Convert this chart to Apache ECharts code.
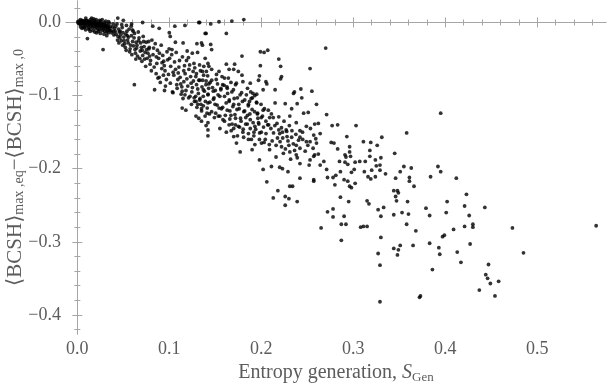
<!DOCTYPE html>
<html>
<head>
<meta charset="utf-8">
<script src="https://cdn.jsdelivr.net/npm/echarts@6/dist/echarts.min.js"></script>
<style>
html, body { margin: 0; padding: 0; background: #fff; }
#chart { width: 608px; height: 384px; }
</style>
</head>
<body>
<div id="chart"></div>
<script>
// points, [S_Gen, <BCSH>max,eq - <BCSH>max,0], grouped by region
var headPts = [
  [0.0005,0.001],[0.0012,-0.001],[0.0018,0.002],[0.0024,0.000],[0.0031,-0.003],[0.0033,0.004],[0.0041,0.001],[0.0046,-0.002],
  [0.0052,0.003],[0.0058,-0.001],[0.0061,0.000],[0.0067,-0.004],[0.0073,0.002],[0.0079,-0.002],[0.0084,0.001],[0.0088,-0.005],
  [0.0094,0.003],[0.0101,-0.001],[0.0107,0.000],[0.0112,-0.004],[0.0118,0.002],[0.0121,-0.006],[0.0127,-0.002],[0.0133,0.001],
  [0.0139,-0.003],[0.0142,0.004],[0.0148,-0.005],[0.0153,-0.001],[0.0159,0.002],[0.0163,-0.007],[0.0168,-0.003],[0.0174,0.000],
  [0.0179,-0.005],[0.0183,0.003],[0.0189,-0.002],[0.0194,-0.008],[0.0199,-0.004],[0.0205,0.001],[0.0211,-0.006],[0.0216,-0.002],
  [0.0222,-0.009],[0.0226,0.000],[0.0231,-0.005],[0.0237,-0.003],[0.0242,-0.010],[0.0247,-0.006],[0.0253,0.002],[0.0258,-0.004],
  [0.0262,-0.008],[0.0268,-0.001],[0.0273,-0.011],[0.0279,-0.006],[0.0284,-0.003],[0.0288,-0.009],[0.0293,0.000],[0.0299,-0.012],
  [0.0304,-0.005],[0.0309,-0.008],[0.0314,-0.002],[0.0319,-0.013],[0.0324,-0.007],[0.0329,-0.010],[0.0334,-0.004],[0.0339,-0.014],
  [0.0344,-0.009],[0.0349,-0.001],[0.0353,-0.011],[0.0358,-0.006],[0.0021,-0.0012],[0.0043,0.0006],[0.0064,0.0023],[0.0082,-0.0009],
  [0.0103,0.0024],[0.0126,0.0004],[0.0144,-0.0012],[0.0161,-0.0024],[0.0186,0.0006],[0.0203,-0.0031],[0.0219,-0.0042],[0.0244,-0.0013],
  [0.0263,-0.0029],[0.0286,-0.0052],[0.0302,-0.0038],[0.0322,-0.0053],[0.0341,-0.0064],[0.011,-0.022],[0.028,-0.037],[0.0035,-0.006],
  [0.0065,-0.007],[0.0135,-0.009],[0.0178,0.005],[0.0241,0.003],[0.0092,0.006],[0.0155,0.006],[0.0205,0.004],
  [0.005,-0.008],[0.009,-0.010],[0.014,-0.012],[0.017,-0.011],[0.021,-0.014],[0.025,-0.015],[0.029,-0.016],[0.032,-0.018],
  [0.019,-0.013],[0.012,-0.009],[0.027,0.004],[0.031,0.002],[0.034,0.001],[0.008,-0.007],[0.023,-0.012]
];
var bodyPts = [
  [0.0412,-0.012],[0.0688,-0.028],[0.0534,-0.004],[0.0759,-0.049],[0.0463,-0.021],[0.0627,-0.037],[0.0381,-0.006],[0.0716,-0.019],
  [0.0579,-0.031],[0.0497,-0.014],[0.0654,-0.046],[0.0431,-0.002],[0.0782,-0.034],[0.0546,-0.024],[0.0608,-0.012],[0.0398,-0.017],
  [0.0737,-0.041],[0.0515,-0.029],[0.0671,-0.021],[0.0449,-0.009],[0.0593,-0.044],[0.0366,-0.011],[0.0702,-0.053],[0.0528,-0.016],
  [0.0639,-0.027],[0.0477,-0.025],[0.0749,-0.027],[0.0563,-0.009],[0.0421,-0.016],[0.0684,-0.039],[0.0505,-0.020],[0.0617,-0.021],
  [0.0791,-0.057],[0.0442,-0.019],[0.0574,-0.036],[0.0726,-0.033],[0.0389,-0.002],[0.0649,-0.031],[0.0488,-0.007],[0.0553,-0.028],
  [0.0711,-0.045],[0.0456,-0.013],[0.0601,-0.026],[0.0768,-0.042],[0.0374,-0.014],[0.0663,-0.013],[0.0521,-0.034],[0.0588,-0.018],
  [0.0743,-0.060],[0.0437,-0.024],[0.0632,-0.042],[0.0494,-0.031],[0.0696,-0.034],[0.0569,-0.040],[0.0405,-0.008],[0.0776,-0.026],
  [0.0539,-0.012],[0.0622,-0.015],[0.0471,-0.017],[0.0731,-0.050],[0.0586,-0.005],[0.0645,-0.035],[0.0509,-0.025],[0.0678,-0.049],
  [0.0418,-0.005],[0.0721,-0.026],[0.0557,-0.020],[0.0611,-0.032],[0.0483,-0.003],[0.0754,-0.037],[0.0393,-0.012],[0.0667,-0.025],
  [0.0531,-0.038],[0.0598,-0.010],[0.0786,-0.046],[0.0452,-0.028],[0.0706,-0.038],[0.0542,-0.018],[0.0636,-0.050],[0.0467,-0.012],
  [0.062,-0.085],[0.044,0.006],[0.050,0.003],[0.059,-0.002],[0.071,0.000]
];
var bandPts = [
  [0.082,-0.005],[0.089,-0.008],[0.106,-0.005],[0.117,-0.004],[0.132,0.000],[0.140,-0.015],[0.100,-0.014],[0.101,-0.019],
  [0.115,-0.028],[0.130,-0.029],[0.135,-0.028],[0.125,-0.042],[0.139,-0.049],[0.142,-0.056],[0.084,-0.092],[0.089,-0.075],
  [0.0912,-0.031],[0.1187,-0.052],[0.0835,-0.061],[0.1344,-0.112],[0.1026,-0.044],[0.1403,-0.067],[0.0968,-0.078],[0.1251,-0.089],
  [0.0779,-0.036],[0.1129,-0.098],[0.1066,-0.027],[0.1382,-0.094],[0.0884,-0.049],[0.1213,-0.064],[0.1307,-0.041],[0.0945,-0.059],
  [0.1158,-0.081],[0.0811,-0.024],[0.1436,-0.125],[0.1042,-0.068],[0.1273,-0.108],[0.0998,-0.036],[0.1362,-0.079],[0.0857,-0.070],
  [0.1194,-0.039],[0.1104,-0.061],[0.1421,-0.098],[0.0929,-0.045],[0.1237,-0.083],[0.1085,-0.090],[0.1329,-0.058],[0.0796,-0.052],
  [0.1172,-0.070],[0.1011,-0.083],[0.1392,-0.108],[0.0871,-0.038],[0.1288,-0.074],[0.0953,-0.066],[0.1143,-0.047],[0.1225,-0.101],
  [0.1057,-0.054],[0.1355,-0.088],[0.0902,-0.082],[0.1268,-0.056],[0.0823,-0.044],[0.1444,-0.082],[0.1118,-0.075],[0.0982,-0.051],
  [0.1316,-0.097],[0.1201,-0.087],[0.0847,-0.029],[0.1412,-0.117],[0.1075,-0.041],[0.1259,-0.067],[0.0936,-0.072],[0.1165,-0.059],
  [0.1373,-0.072],[0.1034,-0.095],[0.1296,-0.085],[0.0864,-0.056],[0.1208,-0.048],[0.1093,-0.078],[0.1338,-0.066],[0.0918,-0.063],
  [0.1428,-0.090],[0.1136,-0.088],[0.1245,-0.095],[0.0975,-0.040],[0.1369,-0.101],[0.1049,-0.072],[0.0805,-0.066],[0.1181,-0.093],
  [0.1321,-0.079],[0.0893,-0.042],[0.1277,-0.062],[0.1015,-0.060],[0.1398,-0.085],[0.1111,-0.052],[0.0958,-0.087],[0.1232,-0.074],
  [0.1351,-0.121],[0.0876,-0.076],[0.1149,-0.104],[0.1068,-0.064],[0.1286,-0.101],[0.0939,-0.053],[0.1417,-0.073],[0.1191,-0.077],
  [0.1003,-0.049],[0.1334,-0.104],[0.0829,-0.035],[0.1262,-0.080],[0.1097,-0.069],[0.1389,-0.128],[0.1221,-0.058],[0.0991,-0.071],
  [0.1157,-0.066],[0.1309,-0.091],[0.0859,-0.047],[0.1441,-0.109],[0.1081,-0.085],[0.1241,-0.112],[0.0921,-0.055],[0.1375,-0.060],
  [0.1124,-0.084],[0.1029,-0.037],[0.1295,-0.070],[0.0948,-0.093],
  [0.104,-0.096],[0.114,-0.094],[0.117,-0.099],[0.121,-0.103],[0.127,-0.103],[0.129,-0.108],[0.131,-0.112],[0.133,-0.106],
  [0.135,-0.118],[0.130,-0.116],[0.114,-0.117],[0.118,-0.120],[0.129,-0.128],[0.132,-0.131],[0.135,-0.135],[0.140,-0.141],
  [0.142,-0.147],[0.142,-0.155],[0.141,-0.124],[0.142,-0.137]
];
var upperPts = [
  [0.133,0.000],[0.145,-0.002],[0.154,0.001],[0.168,0.002],[0.181,0.004],[0.139,-0.015],[0.162,-0.015],[0.136,-0.031],
  [0.145,-0.030],[0.146,-0.037],[0.179,-0.046],[0.199,-0.040],[0.203,-0.041],[0.207,-0.038],[0.219,-0.050],[0.270,-0.035],
  [0.199,-0.059],[0.221,-0.060],[0.222,-0.074],[0.221,-0.077],[0.253,-0.063],[0.243,-0.091],[0.236,-0.095],[0.215,-0.092],
  [0.205,-0.081],[0.206,-0.084],[0.198,-0.073],[0.197,-0.079],[0.202,-0.092],[0.191,-0.097],[0.193,-0.100]
];
var densePts = [
  [0.143,-0.060],[0.146,-0.064],[0.136,-0.067],[0.154,-0.067],[0.162,-0.057],[0.165,-0.064],[0.171,-0.057],[0.170,-0.064],
  [0.175,-0.067],[0.179,-0.072],[0.180,-0.081],[0.160,-0.076],[0.151,-0.078],[0.133,-0.079],[0.140,-0.080],[0.143,-0.084],
  [0.147,-0.089],[0.150,-0.093],[0.158,-0.085],[0.156,-0.092],[0.172,-0.085],[0.168,-0.095],[0.177,-0.099],[0.174,-0.103],
  [0.137,-0.092],[0.142,-0.099],[0.153,-0.099],[0.148,-0.105],[0.160,-0.101],[0.165,-0.108],[0.170,-0.112],[0.182,-0.106],
  [0.186,-0.112],[0.189,-0.104],[0.195,-0.110],[0.152,-0.113],[0.158,-0.116],[0.163,-0.120],[0.176,-0.118],[0.181,-0.122],
  [0.185,-0.127],[0.190,-0.119],[0.196,-0.124],[0.200,-0.130],[0.202,-0.120],[0.205,-0.135],[0.211,-0.125],[0.208,-0.140],
  [0.167,-0.127],[0.172,-0.131],[0.178,-0.135],[0.183,-0.139],[0.188,-0.133],[0.193,-0.142],[0.197,-0.137],[0.188,-0.145],
  [0.146,-0.122],[0.149,-0.130],[0.155,-0.128],[0.160,-0.135],[0.165,-0.140],[0.170,-0.145],[0.175,-0.142],[0.180,-0.150],
  [0.186,-0.152],[0.192,-0.150],[0.198,-0.160],[0.170,-0.156],[0.173,-0.165],[0.177,-0.177],[0.186,-0.160],[0.190,-0.174],
  [0.193,-0.167],[0.198,-0.188],[0.202,-0.201],[0.209,-0.174],[0.211,-0.197],[0.217,-0.138],[0.219,-0.147],[0.213,-0.130],
  [0.155,-0.145],[0.162,-0.150],[0.142,-0.110],[0.137,-0.114],[0.200,-0.150],[0.203,-0.164],[0.195,-0.098],[0.185,-0.090],
  [0.188,-0.083],[0.167,-0.082],[0.163,-0.090],
  [0.1513,-0.071],[0.1876,-0.125],[0.1634,-0.097],[0.2051,-0.152],[0.1729,-0.083],[0.1567,-0.118],[0.1948,-0.109],[0.1682,-0.139],
  [0.2013,-0.128],[0.1478,-0.094],[0.1803,-0.146],[0.1596,-0.086],[0.1911,-0.137],[0.1755,-0.112],[0.2087,-0.167],[0.1532,-0.128],
  [0.1838,-0.099],[0.1659,-0.121],[0.1982,-0.151],[0.1705,-0.104],[0.1461,-0.079],[0.1892,-0.160],[0.1618,-0.110],[0.2034,-0.118],
  [0.1774,-0.131],[0.1549,-0.101],[0.1927,-0.122],[0.1697,-0.092],[0.1859,-0.114],[0.2069,-0.140],[0.1583,-0.133],[0.1741,-0.155],
  [0.1963,-0.131],[0.1642,-0.076],[0.1819,-0.121],[0.1497,-0.112],[0.2002,-0.165],[0.1713,-0.126],[0.1904,-0.103],[0.1561,-0.090],
  [0.1786,-0.096],[0.1673,-0.148],[0.1939,-0.146],[0.2091,-0.130],[0.1524,-0.084],[0.1848,-0.139],[0.1609,-0.127],[0.1997,-0.112],
  [0.1736,-0.119],[0.1486,-0.103],[0.1872,-0.108],[0.1652,-0.106],[0.2043,-0.160],[0.1764,-0.143],[0.1573,-0.074],[0.1919,-0.155],
  [0.1691,-0.115],[0.1831,-0.130],[0.2076,-0.120],[0.1541,-0.117],[0.1795,-0.108],[0.1627,-0.088],[0.1973,-0.139],[0.1718,-0.140],
  [0.1885,-0.095],[0.1504,-0.124],[0.1658,-0.132],[0.1957,-0.125],[0.1808,-0.157],[0.2024,-0.143]
];
var midPts = [
  [0.235,-0.097],[0.239,-0.111],[0.233,-0.118],[0.231,-0.128],[0.246,-0.124],[0.251,-0.123],[0.271,-0.126],[0.283,-0.140],
  [0.262,-0.138],[0.258,-0.139],[0.249,-0.142],[0.238,-0.137],[0.242,-0.148],[0.227,-0.147],[0.223,-0.150],[0.220,-0.152],
  [0.228,-0.156],[0.233,-0.157],[0.242,-0.157],[0.245,-0.160],[0.249,-0.163],[0.253,-0.163],[0.260,-0.165],[0.276,-0.164],
  [0.257,-0.154],[0.264,-0.152],[0.222,-0.170],[0.230,-0.168],[0.238,-0.168],[0.231,-0.177],[0.224,-0.179],[0.216,-0.184],
  [0.220,-0.198],[0.223,-0.200],[0.229,-0.204],[0.242,-0.193],[0.238,-0.181],[0.253,-0.188],[0.257,-0.183],[0.258,-0.181],
  [0.264,-0.195],[0.268,-0.190],[0.252,-0.195],[0.271,-0.201],[0.272,-0.212],[0.242,-0.213],[0.231,-0.224],[0.257,-0.215],
  [0.206,-0.218],[0.226,-0.111],[0.244,-0.103],[0.260,-0.112],[0.215,-0.110],[0.255,-0.094],
  [0.2133,-0.151],[0.2362,-0.175],[0.2219,-0.144],[0.2506,-0.168],[0.2161,-0.168],[0.2420,-0.172],[0.2276,-0.149],[0.2592,-0.159],
  [0.2104,-0.145],[0.2333,-0.148],[0.2190,-0.129],[0.2477,-0.176],[0.2305,-0.141],[0.2118,-0.162],[0.2391,-0.185],[0.2247,-0.135],
  [0.2534,-0.145],[0.2176,-0.158],[0.2348,-0.166],[0.2262,-0.173],[0.2620,-0.180],[0.2204,-0.163],[0.2405,-0.161],[0.2290,-0.162],
  [0.2147,-0.141],[0.2563,-0.172],[0.2319,-0.187],[0.2233,-0.158],[0.2448,-0.150],[0.2376,-0.153]
];
var rightPts = [
  [0.277,-0.141],[0.303,-0.141],[0.395,-0.124],[0.358,-0.151],[0.293,-0.156],[0.331,-0.157],[0.311,-0.163],[0.319,-0.164],
  [0.326,-0.168],[0.279,-0.165],[0.283,-0.173],[0.296,-0.170],[0.296,-0.177],[0.291,-0.181],[0.292,-0.184],[0.297,-0.183],
  [0.318,-0.175],[0.318,-0.183],[0.345,-0.179],[0.285,-0.190],[0.291,-0.191],[0.294,-0.194],[0.302,-0.191],[0.307,-0.190],
  [0.313,-0.190],[0.324,-0.188],[0.330,-0.185],[0.325,-0.196],[0.329,-0.195],[0.355,-0.197],[0.363,-0.199],[0.392,-0.197],
  [0.395,-0.204],[0.286,-0.204],[0.301,-0.201],[0.298,-0.205],[0.312,-0.204],[0.320,-0.202],[0.329,-0.202],[0.335,-0.207],
  [0.324,-0.211],[0.316,-0.211],[0.319,-0.214],[0.351,-0.204],[0.346,-0.213],[0.361,-0.212],[0.361,-0.217],[0.366,-0.224],
  [0.384,-0.211],[0.412,-0.213],[0.278,-0.212],[0.281,-0.209],[0.280,-0.222],[0.290,-0.215],[0.294,-0.217],[0.302,-0.220],
  [0.296,-0.224],[0.298,-0.226]
];
var lowPts = [
  [0.218,-0.230],[0.213,-0.240],[0.226,-0.238],[0.230,-0.241],[0.226,-0.250],[0.234,-0.224],[0.239,-0.245],[0.257,-0.217],
  [0.286,-0.239],[0.295,-0.245],[0.272,-0.259],[0.278,-0.255],[0.278,-0.266],[0.290,-0.265],[0.287,-0.276],[0.292,-0.276],
  [0.265,-0.281],[0.308,-0.280],[0.311,-0.279],[0.315,-0.279],[0.315,-0.244],[0.317,-0.248],[0.327,-0.256],[0.333,-0.253],
  [0.330,-0.265],[0.344,-0.230],[0.348,-0.230],[0.349,-0.233],[0.346,-0.238],[0.347,-0.244],[0.344,-0.263],[0.287,-0.298],
  [0.330,-0.294],[0.344,-0.309],[0.349,-0.311],[0.351,-0.305],[0.348,-0.318],[0.327,-0.316],[0.329,-0.332],[0.359,-0.245],
  [0.423,-0.235],[0.379,-0.254],[0.402,-0.245],[0.421,-0.251],[0.443,-0.253],[0.353,-0.260],[0.360,-0.262],[0.383,-0.264],
  [0.401,-0.260],[0.426,-0.264],[0.358,-0.276],[0.368,-0.285],[0.409,-0.283],[0.421,-0.279],[0.430,-0.276],[0.430,-0.280],
  [0.397,-0.293],[0.399,-0.291],[0.473,-0.281],[0.564,-0.278],[0.365,-0.305],[0.383,-0.302],[0.393,-0.308],[0.394,-0.317],
  [0.427,-0.303],[0.413,-0.314],[0.417,-0.328],[0.485,-0.315],[0.386,-0.338],[0.447,-0.331],[0.444,-0.345],[0.446,-0.350],
  [0.449,-0.357],[0.458,-0.354],[0.437,-0.366],[0.454,-0.374],[0.373,-0.374],[0.372,-0.376],[0.329,-0.382]
];

var xTicks = [0, 0.1, 0.2, 0.3, 0.4, 0.5];
var yTicks = [0, -0.1, -0.2, -0.3, -0.4];

var X_MIN = -0.0123, X_MAX = 0.5747;
var Y_MIN = -0.4261, Y_MAX = 0.0294;

// minor ticks every 0.02
var xMinor = [], yMinor = [];
for (var i = 1; i <= 28; i++) if (i % 5) xMinor.push(+(i * 0.02).toFixed(2));
for (var j = -21; j <= 1; j++) if (j % 5) yMinor.push(+(j * 0.02).toFixed(2));

var serif = '"Liberation Serif", "DejaVu Serif", serif';
var frameColor = '#a6a6a6';
var textColor = '#5c5c5c';

function frameAxis(pos, minV, maxV, ticks, len, grid, withLine) {
  return {
    type: 'value', gridIndex: grid, position: pos, min: minV, max: maxV,
    axisLine: { show: withLine, lineStyle: { color: frameColor, width: 1 } },
    axisTick: { show: true, inside: true, length: len, customValues: ticks, lineStyle: { color: frameColor } },
    axisLabel: { show: false },
    splitLine: { show: false }
  };
}

var xBottom = frameAxis('bottom', X_MIN, X_MAX, xTicks, 5, 0, true);
xBottom.axisLabel = {
  show: true, customValues: xTicks, margin: 6,
  fontFamily: serif, fontSize: 18, color: textColor,
  formatter: function (v) { return v.toFixed(1); }
};
xBottom.name = 'Entropy generation, {i|S}{s|Gen}';
xBottom.nameLocation = 'middle';
xBottom.nameGap = 27;
xBottom.nameTextStyle = {
  fontFamily: serif, fontSize: 20, color: textColor,
  rich: {
    i: { fontFamily: serif, fontSize: 20, fontStyle: 'italic', color: textColor, lineHeight: 22 },
    s: { fontFamily: serif, fontSize: 13, color: textColor, lineHeight: 13, verticalAlign: 'bottom' }
  }
};

var yLeft = frameAxis('left', Y_MIN, Y_MAX, yTicks, 5, 0, true);
yLeft.axisLabel = {
  show: true, customValues: yTicks, margin: 5,
  fontFamily: serif, fontSize: 18, color: textColor,
  formatter: function (v) { return v === 0 ? '0.0' : (v < 0 ? '\u2212' : '') + Math.abs(v).toFixed(1); }
};
yLeft.name = '{m|\u27E8BCSH\u27E9}{s|max ,eq}{m|\u2212\u27E8BCSH\u27E9}{s|max ,0}';
yLeft.nameLocation = 'middle';
yLeft.nameGap = 40;
yLeft.nameMoveOverlap = false;
yLeft.nameTextStyle = {
  fontFamily: serif, fontSize: 21, color: textColor,
  rich: {
    m: { fontFamily: serif, fontSize: 21, color: textColor, lineHeight: 22 },
    s: { fontFamily: serif, fontSize: 14, color: textColor, lineHeight: 14, verticalAlign: 'bottom' }
  }
};

var chart = echarts.init(document.getElementById('chart'));
chart.setOption({
  animation: false,
  backgroundColor: '#fff',
  grid: [
    { left: 66, right: 2, top: 1, bottom: 50, outerBoundsMode: 'none' },
    { left: 66, right: 2, top: 1, bottom: 50, outerBoundsMode: 'none' }
  ],
  xAxis: [
    xBottom,
    frameAxis('top', X_MIN, X_MAX, xTicks, 5, 0, true),
    frameAxis('bottom', X_MIN, X_MAX, xMinor, 3, 1, false),
    frameAxis('top', X_MIN, X_MAX, xMinor, 3, 1, false)
  ],
  yAxis: [
    yLeft,
    frameAxis('right', Y_MIN, Y_MAX, yTicks, 5, 0, true),
    frameAxis('left', Y_MIN, Y_MAX, yMinor, 3, 1, false),
    frameAxis('right', Y_MIN, Y_MAX, yMinor, 3, 1, false)
  ],
  series: [{
    type: 'scatter',
    xAxisIndex: 0, yAxisIndex: 0,
    symbol: 'circle', symbolSize: 3.8,
    itemStyle: { color: '#000' },
    emphasis: { disabled: true },
    data: [].concat(headPts, bodyPts, bandPts, upperPts, densePts, midPts, rightPts, lowPts)
  }]
});
</script>
</body>
</html>
